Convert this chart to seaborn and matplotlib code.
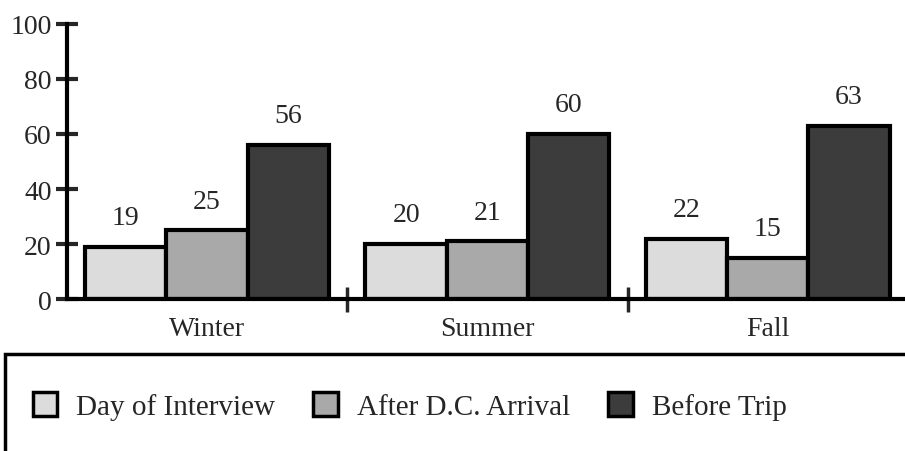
import pandas as pd
import matplotlib.pyplot as plt
import seaborn as sns
from matplotlib.patches import Rectangle

seasons = ["Winter", "Summer", "Fall"]
series = ["Day of Interview", "After D.C. Arrival", "Before Trip"]
day_of_interview = [19, 20, 22]
after_dc_arrival = [25, 21, 15]
before_trip = [56, 60, 63]
y_ticks = [0, 20, 40, 60, 80, 100]

colors = ["#dcdcdc", "#a9a9a9", "#3c3c3c"]

sns.set_style("white")
plt.rcParams['font.family'] = ['Liberation Serif', 'DejaVu Serif']

rows = []
for i, s in enumerate(seasons):
    for name, vals in zip(series, [day_of_interview, after_dc_arrival, before_trip]):
        rows.append({"season": s, "series": name, "value": vals[i]})
df = pd.DataFrame(rows)

fig = plt.figure(figsize=(9.05, 4.52), dpi=100)
ax = fig.add_axes([0.074, 0.336, 0.926, 0.609])

sns.barplot(data=df, x="season", y="value", hue="series", order=seasons,
            hue_order=series, palette=colors, width=0.87, edgecolor="black",
            linewidth=3, saturation=1, legend=False, ax=ax)

# value labels above bars
for container in ax.containers:
    ax.bar_label(container, padding=12, fontsize=20)

ax.set_ylim(0, 100)
ax.set_xlim(-0.5, 2.49)
ax.set_yticks(y_ticks)
ax.tick_params(axis="y", left=True, direction="inout", length=16, width=3,
               labelsize=20, pad=3)

# group separators as major ticks, season names as minor ticks
ax.set_xticks([0.5, 1.5])
ax.set_xticklabels([])
ax.set_xticks([0, 1, 2], minor=True)
ax.set_xticklabels(seasons, minor=True)
ax.tick_params(axis="x", which="major", bottom=True, direction="inout", length=18, width=2.5)
ax.tick_params(axis="x", which="minor", bottom=True, length=0, labelsize=20, pad=12)
ax.set_xlabel("")
ax.set_ylabel("")

sns.despine(ax=ax)
for side in ["left", "bottom"]:
    ax.spines[side].set_linewidth(3)
    ax.spines[side].set_color("black")

# legend box (open at the bottom edge)
fig.patches.append(Rectangle((0.006, -0.2), 1.2, 0.415, transform=fig.transFigure,
                             fill=False, edgecolor="black", linewidth=2.5,
                             clip_on=False))
handles = [Rectangle((0, 0), 1, 1, facecolor=c, edgecolor="black", linewidth=2.5)
           for c in colors]
fig.legend(handles, series, loc="center left", bbox_to_anchor=(0.007, 0.099),
           ncol=3, frameon=False, fontsize=21, handlelength=0.85, handleheight=0.85,
           handletextpad=0.65, columnspacing=1.3)

plt.savefig("out.png", dpi=100)
